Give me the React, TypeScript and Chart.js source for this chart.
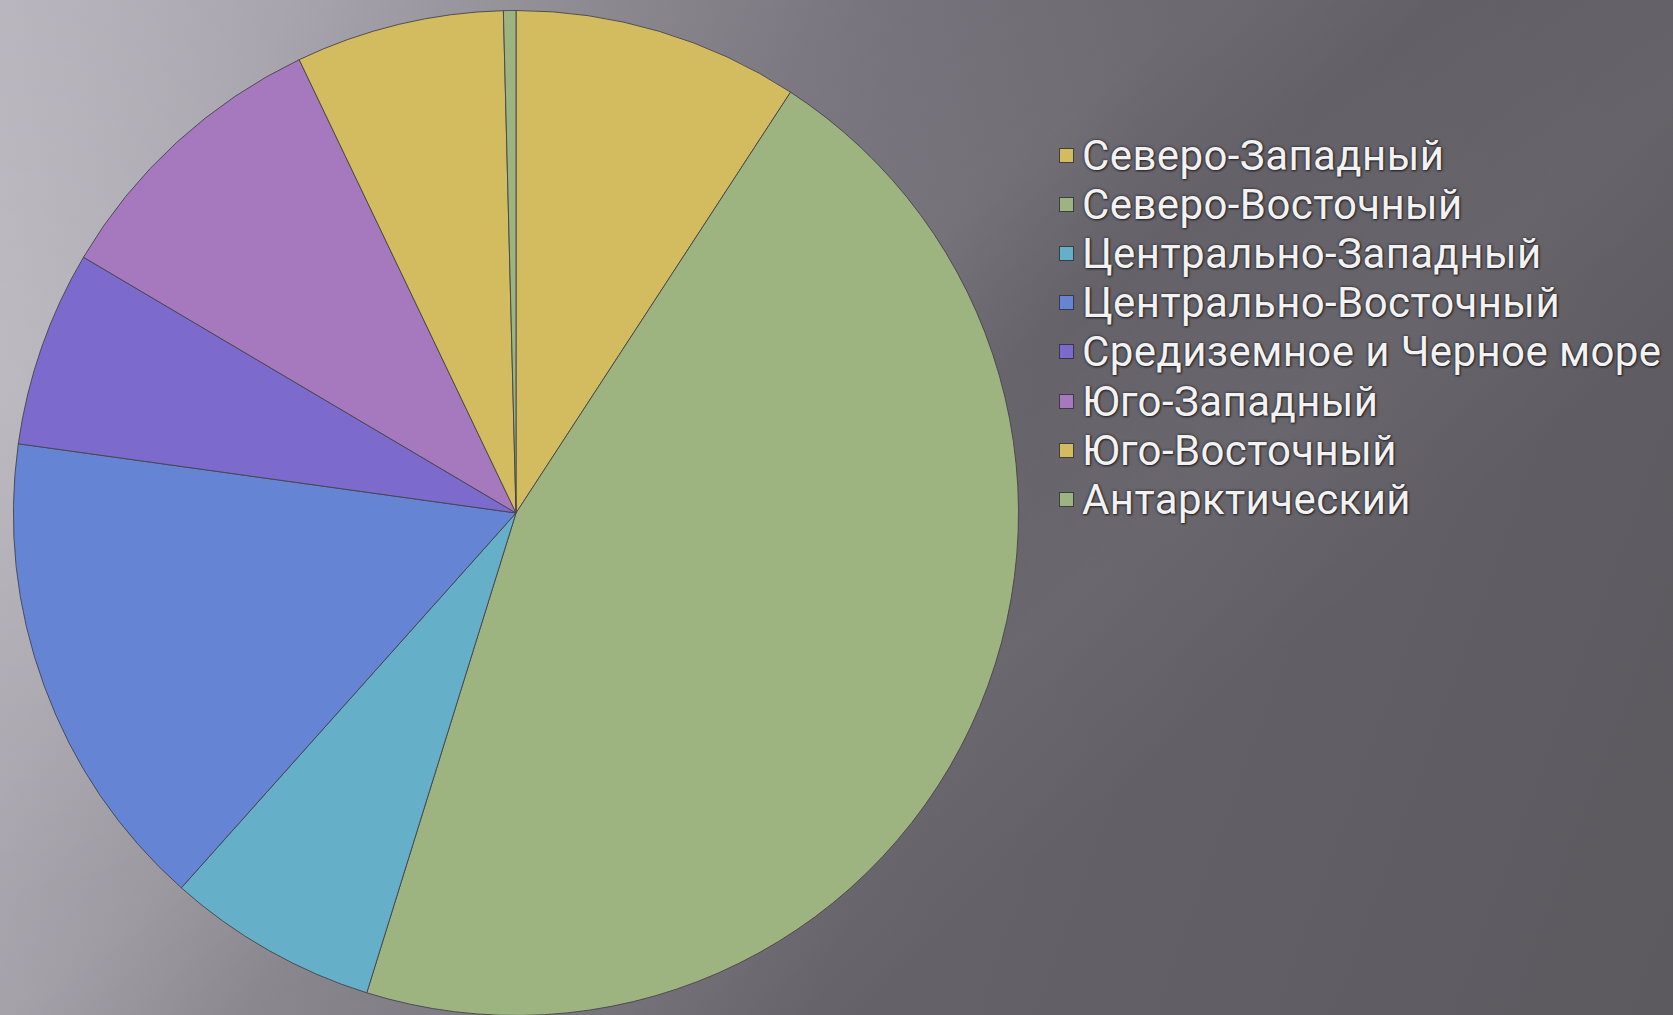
import React, { useEffect, useRef } from "react";
import { Chart, registerables } from "chart.js";

Chart.register(...registerables);

const LABELS: string[] = [
  "Северо-Западный",
  "Северо-Восточный",
  "Центрально-Западный",
  "Центрально-Восточный",
  "Средиземное и Черное море",
  "Юго-Западный",
  "Юго-Восточный",
  "Антарктический",
];

const VALUES: number[] = [9.2, 45.6, 6.8, 15.6, 6.3, 9.4, 6.7, 0.4];

const COLORS: string[] = [
  "#d3bb60",
  "#9db480",
  "#65afc9",
  "#6584d3",
  "#7c6acd",
  "#a679bf",
  "#d3bb60",
  "#9db480",
];

export default function App() {
  const canvasRef = useRef<HTMLCanvasElement | null>(null);

  useEffect(() => {
    document.body.style.margin = "0";
    const ctx = canvasRef.current;
    if (!ctx) return;
    const chart = new Chart(ctx, {
      type: "pie",
      data: {
        labels: LABELS,
        datasets: [
          {
            data: VALUES,
            backgroundColor: COLORS,
            borderColor: "rgba(70,68,74,0.9)",
            borderWidth: 1,
          },
        ],
      },
      options: {
        animation: false,
        responsive: true,
        maintainAspectRatio: false,
        layout: { padding: 0 },
        plugins: {
          legend: { display: false },
          tooltip: { enabled: false },
        },
      },
    });
    return () => chart.destroy();
  }, []);

  return (
    <div
      style={{
        position: "fixed",
        left: 0,
        top: 0,
        width: 1673,
        height: 1015,
        overflow: "hidden",
        background:
          "linear-gradient(110deg, #b7b3bc 0%, #a9a5ae 14%, #8c8890 30%, #74717a 45%, #656269 58%, #5c595f 100%)",
      }}
    >
      <div
        style={{
          position: "absolute",
          inset: 0,
          background:
            "radial-gradient(ellipse 380px 520px at 0% 38%, rgba(255,255,255,0.16), rgba(255,255,255,0) 100%)",
        }}
      />
      <div
        style={{
          position: "absolute",
          inset: 0,
          background:
            "linear-gradient(140deg, rgba(255,255,255,0) 30%, rgba(255,255,255,0.05) 42%, rgba(255,255,255,0) 50%, rgba(255,255,255,0.04) 62%, rgba(255,255,255,0) 72%)",
        }}
      />
      <div
        style={{
          position: "absolute",
          left: 13,
          top: 10,
          width: 1006,
          height: 1006,
        }}
      >
        <canvas ref={canvasRef} />
      </div>
      <div
        style={{
          position: "absolute",
          left: 1059,
          top: 131,
          fontFamily: "Roboto, 'Noto Sans', sans-serif",
          fontSize: 42,
          letterSpacing: "0.4px",
          color: "#f2f2f2",
          textShadow: "0 0 3px rgba(30,30,34,0.95), 1px 1px 2px rgba(0,0,0,0.6)",
          whiteSpace: "nowrap",
        }}
      >
        {LABELS.map((label, i) => (
          <div
            key={label}
            style={{
              height: 49.1,
              display: "flex",
              alignItems: "center",
            }}
          >
            <span
              style={{
                display: "inline-block",
                width: 13,
                height: 13,
                background: COLORS[i],
                border: "1px solid rgba(50,50,55,0.9)",
                marginRight: 8,
              }}
            />
            <span>{label}</span>
          </div>
        ))}
      </div>
    </div>
  );
}
